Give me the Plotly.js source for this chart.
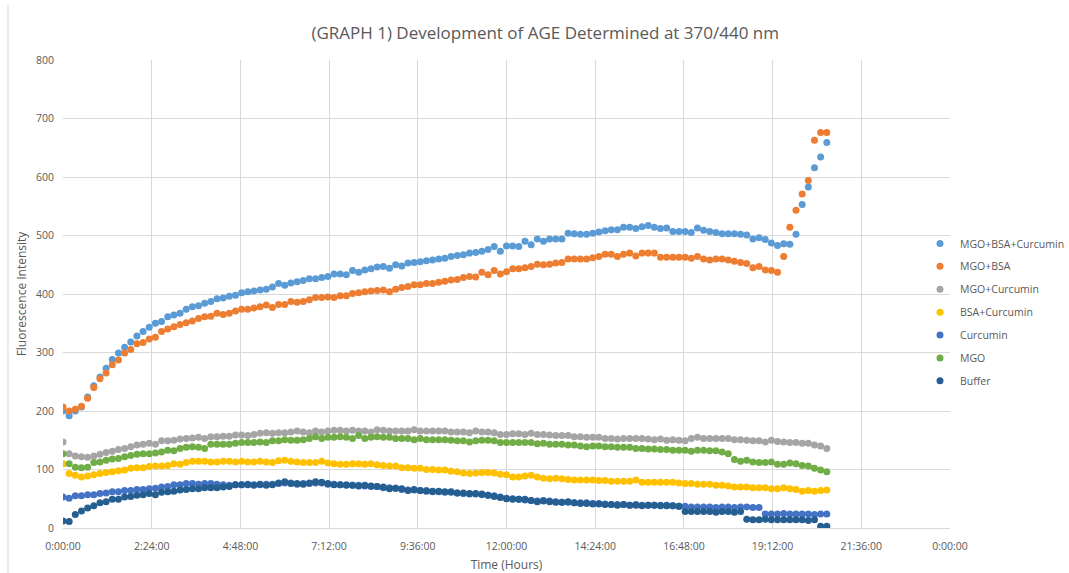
<!DOCTYPE html>
<html>
<head>
<meta charset="utf-8">
<script src="https://cdn.plot.ly/plotly-3.0.1.min.js"></script>
<style>
  html, body { margin: 0; padding: 0; background: #ffffff; }
  #chart { width: 1069px; height: 573px; }
</style>
</head>
<body>
<div id="chart"></div>
<script>
// Sampling times (minutes after start)
const timeMinutes = [
  0,10,20,30,40,50,60,70,80,90,
  100,110,120,130,140,150,160,170,180,190,
  200,210,220,230,240,250,260,270,280,290,
  300,310,320,330,340,350,360,370,380,390,
  400,410,420,430,440,450,460,470,480,490,
  500,510,520,530,540,550,560,570,580,590,
  600,610,620,630,640,650,660,670,680,690,
  700,710,720,730,740,750,760,770,780,790,
  800,810,820,830,840,850,860,870,880,890,
  900,910,920,930,940,950,960,970,980,990,
  1000,1010,1020,1030,1040,1050,1060,1070,1080,1090,
  1100,1110,1120,1130,1140,1150,1160,1170,1180,1190,
  1200,1210,1220,1230,1240
];

const seriesNames = ["MGO+BSA+Curcumin","MGO+BSA","MGO+Curcumin","BSA+Curcumin","Curcumin","MGO","Buffer"];
const seriesColors = ["#5B9BD5","#ED7D31","#A5A5A5","#FFC000","#4472C4","#70AD47","#255E91"];

const mgoBsaCurcumin = [
  200,192,200,207,224,243,258,273,288,299,
  309,318,328,336,343,350,353,361,364,367,
  374,378,380,384,387,392,393,396,398,402,
  404,405,407,408,412,418,415,419,421,423,
  426,426,428,430,434,434,433,440,437,441,
  443,446,447,444,450,448,453,454,455,457,
  458,460,461,464,466,467,470,471,473,476,
  481,473,482,482,481,490,484,494,490,494,
  494,494,504,503,502,502,504,506,508,510,
  510,514,514,512,515,517,514,512,513,507,
  507,507,505,513,509,507,505,503,503,503,
  502,501,494,496,493,487,483,486,485,502,
  553,583,616,634,659
];
const mgoBsa = [
  207,200,203,208,222,240,255,265,279,287,
  299,305,315,317,323,326,336,340,344,348,
  351,354,358,361,362,367,365,367,371,374,
  374,376,378,381,377,382,382,387,386,387,
  390,394,394,395,394,397,397,401,402,404,
  405,406,407,404,408,411,413,416,416,418,
  418,420,422,424,425,428,430,429,437,433,
  440,434,438,443,443,445,447,451,450,451,
  453,454,460,460,460,460,462,464,468,468,
  464,468,470,465,470,470,470,463,463,463,
  463,463,461,464,460,458,460,460,458,456,
  454,452,445,447,441,440,437,464,514,543,
  571,594,663,676,676
];
const mgoCurcumin = [
  147,127,123,122,121,123,126,129,131,134,
  136,139,142,143,145,143,149,149,150,152,
  153,154,155,153,156,156,157,157,159,159,
  158,160,162,163,162,163,163,164,166,164,
  163,166,164,166,167,167,166,167,166,166,
  164,168,167,166,166,166,166,168,166,166,
  166,166,166,164,164,164,163,166,164,164,
  163,160,160,161,161,160,162,160,160,159,
  158,158,158,156,156,155,155,155,153,153,
  152,153,153,153,153,152,151,152,150,151,
  150,149,153,155,153,153,153,153,153,151,
  151,150,149,149,147,150,148,147,146,146,
  145,145,142,140,136
];
const bsaCurcumin = [
  110,93,90,87,89,91,93,95,96,98,
  99,102,103,103,105,106,106,107,110,109,
  112,114,114,114,113,113,114,114,113,114,
  113,113,114,113,112,115,116,114,113,112,
  112,112,114,111,110,109,109,110,110,109,
  110,108,107,106,106,103,103,102,102,100,
  100,99,99,97,96,94,93,94,95,95,
  94,92,91,87,87,89,90,87,85,84,
  85,84,83,82,82,82,82,81,81,80,
  80,80,80,82,78,78,78,78,78,78,
  77,76,76,75,75,75,73,73,72,70,
  70,70,69,69,69,67,67,69,67,66,
  63,64,63,64,65
];
const curcumin = [
  53,51,55,55,57,57,59,60,62,62,
  64,64,66,66,67,68,70,71,74,74,
  76,76,75,76,76,75,74,73,74,74,
  75,74,74,75,75,76,77,77,75,76,
  76,77,77,75,75,74,74,73,73,72,
  71,71,69,69,68,66,65,65,64,64,
  62,62,61,61,60,59,58,58,57,56,
  55,53,51,50,49,48,47,46,47,46,
  45,44,44,43,43,43,42,42,41,40,
  40,40,39,40,39,39,39,39,39,38,
  37,37,36,36,36,36,35,36,36,35,
  36,36,35,35,24,24,24,25,24,24,
  24,24,23,24,24
];
const mgo = [
  127,110,104,103,104,112,113,116,118,119,
  122,124,126,127,127,128,130,133,132,136,
  138,139,138,136,143,143,143,143,145,146,
  146,146,147,146,149,149,151,150,150,151,
  153,156,153,155,155,156,155,153,158,153,
  155,156,155,155,153,153,153,151,153,151,
  151,151,151,150,149,149,147,149,150,150,
  149,146,146,146,146,146,146,144,145,143,
  143,143,142,142,140,139,140,140,139,139,
  138,138,138,136,136,135,135,134,134,133,
  133,133,131,133,133,132,132,130,127,117,
  114,116,113,112,112,113,109,109,111,110,
  107,106,102,99,96
];
const buffer = [
  12,11,23,29,34,38,43,45,49,49,
  53,54,56,57,59,57,61,62,63,65,
  66,67,67,69,69,69,70,71,74,74,
  74,73,75,73,74,77,79,76,76,75,
  77,79,78,76,74,74,73,73,72,73,
  72,71,70,67,68,67,64,66,64,63,
  63,63,62,62,60,60,59,59,58,56,
  54,52,50,49,49,49,47,45,46,45,
  44,44,45,43,42,42,41,41,40,40,
  39,40,39,39,38,39,39,38,38,38,
  37,28,28,28,28,28,27,28,28,27,
  28,15,14,14,15,14,14,14,14,14,
  14,13,14,3,3
];
const seriesValues = [mgoBsaCurcumin, mgoBsa, mgoCurcumin, bsaCurcumin, curcumin, mgo, buffer];

const xTickVals = [0,144,288,432,576,720,864,1008,1152,1296,1440];
const xTickText = ["0:00:00","2:24:00","4:48:00","7:12:00","9:36:00","12:00:00","14:24:00","16:48:00","19:12:00","21:36:00","0:00:00"];

const FONT = "Open Sans, Liberation Sans, sans-serif";
const GREY = "#595959";

const traces = seriesNames.map((name, k) => ({
  type: "scatter",
  mode: "markers",
  name: name,
  legendgroup: "g" + k,
  x: timeMinutes,
  y: seriesValues[k],
  marker: { color: seriesColors[k], size: 7, line: { width: 0 } },
  hoverinfo: "x+y+name"
}));

const layout = {
  width: 1069,
  height: 573,
  paper_bgcolor: "#ffffff",
  plot_bgcolor: "#ffffff",
  margin: { l: 63, r: 119, t: 60, b: 45, autoexpand: false },
  font: { family: FONT, color: GREY, size: 11 },
  title: {
    text: "(GRAPH 1) Development of AGE Determined at 370/440 nm",
    font: { family: FONT, size: 17, color: GREY },
    x: 0.51, xanchor: "center",
    y: 0.942, yanchor: "middle"
  },
  xaxis: {
    range: [0, 1440],
    tickmode: "array",
    tickvals: xTickVals,
    ticktext: xTickText,
    showgrid: true,
    gridcolor: "#d9d9d9",
    gridwidth: 1,
    zeroline: false,
    showline: true,
    linecolor: "#d9d9d9",
    ticks: "",
    ticklabelstandoff: 8,
    tickfont: { family: FONT, size: 10.5, color: GREY },
    title: { text: "Time (Hours)", font: { family: FONT, size: 12, color: GREY }, standoff: 10 },
    automargin: false,
    fixedrange: true
  },
  yaxis: {
    range: [0, 800],
    dtick: 100,
    tick0: 0,
    showgrid: true,
    gridcolor: "#d9d9d9",
    gridwidth: 1,
    zeroline: true,
    zerolinecolor: "#d9d9d9",
    showline: false,
    ticks: "",
    ticklabelstandoff: 8,
    tickfont: { family: FONT, size: 10.5, color: GREY },
    title: { text: "Fluorescence Intensity", font: { family: FONT, size: 12, color: GREY }, standoff: 6 },
    automargin: false,
    fixedrange: true
  },
  showlegend: true,
  legend: {
    x: 0.9662, xanchor: "left",
    y: 0.639, yanchor: "top",
    traceorder: "grouped",
    tracegroupgap: 3.9,
    font: { family: FONT, size: 10.5, color: GREY },
    bgcolor: "rgba(0,0,0,0)",
    itemwidth: 30
  },
  shapes: [
    { type: "line", xref: "paper", yref: "paper", x0: -0.062, x1: -0.062, y0: -0.2, y1: 1.12,
      line: { color: "#d9d9d9", width: 1 } }
  ]
};

Plotly.newPlot("chart", traces, layout, { displayModeBar: false, staticPlot: true });
</script>
</body>
</html>
